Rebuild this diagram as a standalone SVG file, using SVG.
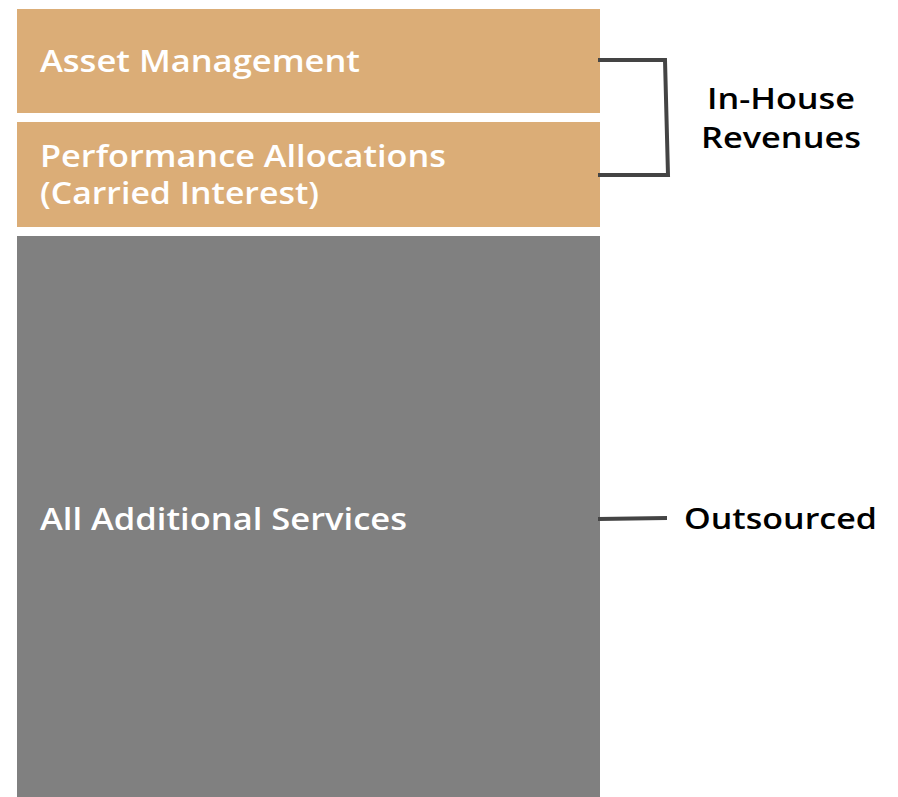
<svg xmlns="http://www.w3.org/2000/svg" width="898" height="797" viewBox="0 0 898 797">
  <style>
    .tan { fill: #dbad77; }
    .grey { fill: #808080; }
    .in { font-family: "Open Sans", "DejaVu Sans", sans-serif; font-size: 30px; font-weight: 600; fill: #ffffff; }
    .out { font-family: "Open Sans", "DejaVu Sans", sans-serif; font-size: 29px; font-weight: 600; fill: #000000; }
    .conn { fill: none; stroke: #444444; stroke-width: 4; stroke-linejoin: miter; }
  </style>
  <rect width="898" height="797" fill="#ffffff"/>
  <g id="asset-management">
    <rect class="tan" x="17" y="9" width="583" height="104"/>
    <text class="in" x="40" y="72" textLength="320" lengthAdjust="spacingAndGlyphs">Asset Management</text>
  </g>
  <g id="performance-allocations">
    <rect class="tan" x="17" y="122" width="583" height="105"/>
    <text class="in" x="40" y="167" textLength="406" lengthAdjust="spacingAndGlyphs">Performance Allocations</text>
    <text class="in" x="40" y="204" textLength="279" lengthAdjust="spacingAndGlyphs">(Carried Interest)</text>
  </g>
  <g id="additional-services">
    <rect class="grey" x="17" y="236" width="583" height="561"/>
    <text class="in" x="40" y="530" textLength="367" lengthAdjust="spacingAndGlyphs">All Additional Services</text>
  </g>
  <g id="in-house-label">
    <text class="out" x="781" y="109" text-anchor="middle" textLength="148" lengthAdjust="spacingAndGlyphs">In-House</text>
    <text class="out" x="781" y="148" text-anchor="middle" textLength="160" lengthAdjust="spacingAndGlyphs">Revenues</text>
  </g>
  <g id="outsourced-label">
    <text class="out" x="684" y="529" textLength="193" lengthAdjust="spacingAndGlyphs">Outsourced</text>
  </g>
  <g id="connectors">
    <path class="conn" d="M598 60 L665 60 L668 175 L598 175"/>
    <path class="conn" d="M598 519 L667 518"/>
  </g>
</svg>
